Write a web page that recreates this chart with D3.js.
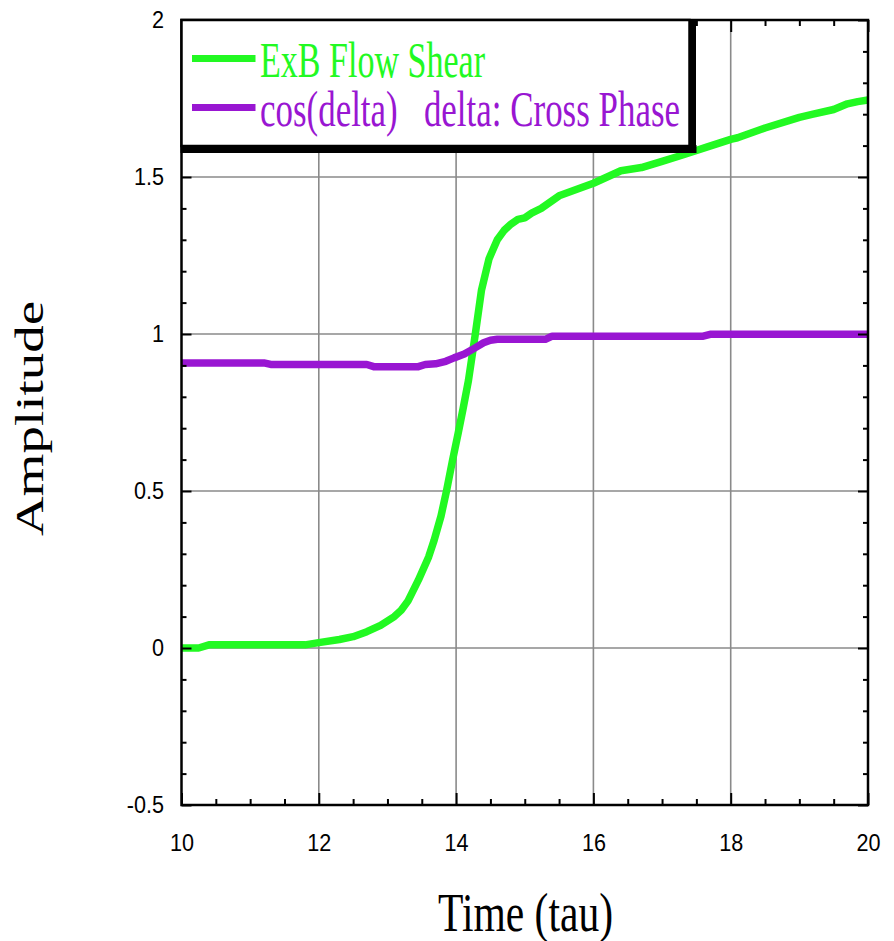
<!DOCTYPE html>
<html>
<head>
<meta charset="utf-8">
<script src="https://cdn.jsdelivr.net/npm/d3@7"></script>
<style>
	body { margin: 0; background: #fff; }
	svg { display: block; }
</style>
</head>
<body>
<svg id="chart"></svg>
<script>
// time axis values (tau) and amplitudes
var shearTime = [10, 10.25, 10.4, 11.0, 11.8, 12.0, 12.3, 12.5, 12.7, 12.9, 13.1, 13.2, 13.3, 13.45, 13.6, 13.68, 13.78, 13.86, 13.95, 14.03, 14.1, 14.18, 14.28, 14.37, 14.48, 14.6, 14.7, 14.8, 14.9, 15.0, 15.1, 15.24, 15.5, 15.75, 16.0, 16.4, 16.7, 17.0, 17.3, 17.65, 18.0, 18.1, 18.5, 19.0, 19.2, 19.5, 19.7, 19.85, 20];
var shearValue = [0, 0, 0.01, 0.01, 0.01, 0.017, 0.027, 0.036, 0.052, 0.072, 0.10, 0.12, 0.15, 0.216, 0.29, 0.343, 0.42, 0.5, 0.6, 0.684, 0.76, 0.852, 1.0, 1.14, 1.24, 1.30, 1.33, 1.35, 1.365, 1.37, 1.385, 1.40, 1.44, 1.46, 1.48, 1.52, 1.53, 1.55, 1.57, 1.595, 1.62, 1.625, 1.656, 1.69, 1.70, 1.715, 1.733, 1.74, 1.745];

var phaseTime = [10, 11.2, 11.3, 12.7, 12.8, 13.45, 13.55, 13.7, 13.85, 13.97, 14.12, 14.27, 14.4, 14.5, 14.6, 15.3, 15.4, 17.6, 17.7, 20];
var phaseValue = [0.908, 0.908, 0.903, 0.903, 0.896, 0.896, 0.903, 0.905, 0.913, 0.924, 0.936, 0.955, 0.972, 0.98, 0.983, 0.983, 0.993, 0.993, 0.999, 0.999];

var xTicks = [10, 12, 14, 16, 18, 20];
var yTicks = [-0.5, 0, 0.5, 1, 1.5, 2];
var xGrid = [12, 14, 16, 18];
var yGrid = [0, 0.5, 1, 1.5];

var seriesNames = ["ExB Flow Shear", "cos(delta)   delta: Cross Phase"];
var seriesColors = ["#22f922", "#9916d2"];

var width = 894, height = 941;
// plot frame in pixels (note: "top" is taken by window.top)
var frame = { left: 181.5, right: 868, top: 20, bottom: 805 };

var svg = d3.select("#chart")
	.attr("width", width)
	.attr("height", height);

svg.append("rect").attr("width", width).attr("height", height).attr("fill", "#fff");

var x = d3.scaleLinear().domain([10, 20]).range([frame.left, frame.right]);
var y = d3.scaleLinear().domain([-0.5, 2]).range([frame.bottom, frame.top]);

// grid lines
var grid = svg.append("g").attr("stroke", "#8a8a8a").attr("stroke-width", 1.6);
grid.selectAll(".gx").data(xGrid).enter().append("line")
	.attr("class", "gx")
	.attr("x1", function(d) { return x(d); })
	.attr("x2", function(d) { return x(d); })
	.attr("y1", frame.top).attr("y2", frame.bottom);
grid.selectAll(".gy").data(yGrid).enter().append("line")
	.attr("class", "gy")
	.attr("y1", function(d) { return y(d); })
	.attr("y2", function(d) { return y(d); })
	.attr("x1", frame.left).attr("x2", frame.right);

// the curves
var line = d3.line()
	.x(function(d) { return x(d[0]); })
	.y(function(d) { return y(d[1]); });

var series = [
	d3.zip(shearTime, shearValue),
	d3.zip(phaseTime, phaseValue)
];

svg.append("g").selectAll("path")
	.data(series)
	.enter().append("path")
	.attr("fill", "none")
	.attr("stroke", function(d, i) { return seriesColors[i]; })
	.attr("stroke-width", 7.5)
	.attr("stroke-linejoin", "round")
	.attr("d", line);

// axes: ticks point inward, labels a bit narrow
var tickFont = "'Liberation Sans', Arial, sans-serif";
var squeeze = function(g) {
	g.selectAll("text")
		.attr("font-family", tickFont)
		.attr("font-size", 24)
		.attr("fill", "#000")
		.attr("transform", "scale(0.9,1)");
	g.select(".domain").remove();
	g.selectAll(".tick line").attr("stroke", "#000").attr("stroke-width", 2);
};

var minorX = d3.range(10, 20.01, 0.5).filter(function(d) { return xTicks.indexOf(d) < 0; });
var minorY = d3.range(-0.5, 2.001, 0.1).map(function(d) { return Math.round(d * 10) / 10; })
	.filter(function(d) { return yTicks.indexOf(d) < 0; });

svg.append("g")
	.attr("transform", "translate(0," + frame.bottom + ")")
	.call(d3.axisBottom(x).tickValues(xTicks).tickSize(-12).tickPadding(29).tickFormat(d3.format("d")))
	.call(squeeze);
svg.append("g")
	.attr("transform", "translate(0," + frame.bottom + ")")
	.call(d3.axisBottom(x).tickValues(minorX).tickSize(-6).tickFormat(""))
	.call(squeeze);
svg.append("g")
	.attr("transform", "translate(0," + frame.top + ")")
	.call(d3.axisTop(x).tickValues(xTicks).tickSize(-12).tickFormat(""))
	.call(squeeze);
svg.append("g")
	.attr("transform", "translate(0," + frame.top + ")")
	.call(d3.axisTop(x).tickValues(minorX).tickSize(-6).tickFormat(""))
	.call(squeeze);

svg.append("g")
	.attr("transform", "translate(" + frame.left + ",0)")
	.call(d3.axisLeft(y).tickValues(yTicks).tickSize(-10).tickPadding(19.5).tickFormat(function(d) { return String(d); }))
	.call(squeeze);
svg.append("g")
	.attr("transform", "translate(" + frame.left + ",0)")
	.call(d3.axisLeft(y).tickValues(minorY).tickSize(-5).tickFormat(""))
	.call(squeeze);
svg.append("g")
	.attr("transform", "translate(" + frame.right + ",0)")
	.call(d3.axisRight(y).tickValues(yTicks).tickSize(-10).tickFormat(""))
	.call(squeeze);
svg.append("g")
	.attr("transform", "translate(" + frame.right + ",0)")
	.call(d3.axisRight(y).tickValues(minorY).tickSize(-5).tickFormat(""))
	.call(squeeze);

// frame
svg.append("rect")
	.attr("x", frame.left).attr("y", frame.top)
	.attr("width", frame.right - frame.left).attr("height", frame.bottom - frame.top)
	.attr("fill", "none")
	.attr("stroke", "#000").attr("stroke-width", 2.5);

// legend box with its heavy shadow on bottom and right, drawn over everything
var legend = svg.append("g");
legend.append("rect")
	.attr("x", frame.left).attr("y", 20)
	.attr("width", 508).attr("height", 126)
	.style("fill", "#ffffff")
	.style("stroke", "#000")
	.style("stroke-width", 2.5);
legend.append("rect")
	.attr("x", frame.left - 1).attr("y", 145)
	.attr("width", 516).attr("height", 8)
	.style("fill", "#000");
legend.append("rect")
	.attr("x", 689).attr("y", 19)
	.attr("width", 7).attr("height", 134)
	.style("fill", "#000");

var legendY = [58.5, 107.5];
var textLen = [225, 420];
legend.selectAll(".sample").data(seriesNames).enter().append("line")
	.attr("class", "sample")
	.attr("x1", 192).attr("x2", 255.5)
	.attr("y1", function(d, i) { return legendY[i]; })
	.attr("y2", function(d, i) { return legendY[i]; })
	.attr("stroke", function(d, i) { return seriesColors[i]; })
	.attr("stroke-width", 7);
legend.selectAll(".label").data(seriesNames).enter().append("text")
	.attr("class", "label")
	.attr("x", 260)
	.attr("y", function(d, i) { return legendY[i] + 18; })
	.attr("textLength", function(d, i) { return textLen[i]; })
	.attr("lengthAdjust", "spacingAndGlyphs")
	.style("white-space", "pre")
	.attr("fill", function(d, i) { return seriesColors[i]; })
	.attr("font-family", "'Liberation Serif', 'Times New Roman', serif")
	.attr("font-size", 50)
	.text(function(d) { return d; });

// axis titles
svg.append("text")
	.attr("x", 438).attr("y", 931)
	.attr("textLength", 175)
	.attr("lengthAdjust", "spacingAndGlyphs")
	.attr("font-family", "'Liberation Serif', 'Times New Roman', serif")
	.attr("font-size", 54)
	.text("Time (tau)");

svg.append("text")
	.attr("transform", "translate(43,418.5) scale(0.74,1) rotate(-90)")
	.attr("text-anchor", "middle")
	.attr("font-family", "'Liberation Serif', 'Times New Roman', serif")
	.attr("font-size", 55)
	.text("Amplitude");
</script>
</body>
</html>
